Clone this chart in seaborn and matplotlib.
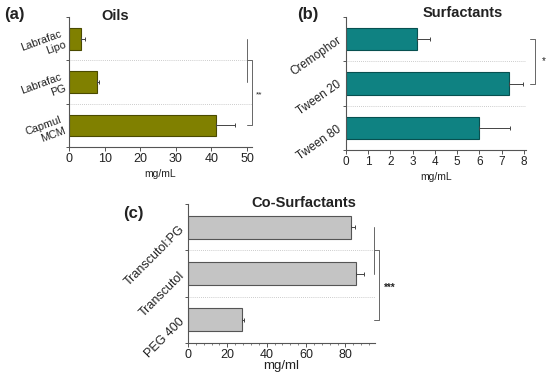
import matplotlib
matplotlib.use("Agg")
import matplotlib.pyplot as plt
import seaborn as sns
import numpy as np
from matplotlib.ticker import MultipleLocator, FixedLocator

sns.set_style("white")
plt.rcParams['font.family'] = ['Liberation Sans', 'DejaVu Sans']

# ---- data ----
oil_cats = ["Labrafac\nLipo", "Labrafac\nPG", "Capmul\nMCM"]
oil_vals = [3.4, 7.8, 41.3]
oil_errs = [1.0, 0.5, 5.3]

surf_cats = ["Cremophor", "Tween 20", "Tween 80"]
surf_vals = [3.2, 7.35, 6.0]
surf_errs = [0.6, 0.6, 1.4]

cosurf_cats = ["Transcutol:PG", "Transcutol", "PEG 400"]
cosurf_vals = [83.0, 85.5, 27.5]
cosurf_errs = [2.0, 4.0, 1.0]

W, H = 550, 373
fig = plt.figure(figsize=(W / 100, H / 100), dpi=100)

def frac(l, r, t, b):
    return [l / W, 1 - b / H, (r - l) / W, (b - t) / H]

TXT = "#222222"
SP = "#555555"

def panel(rect, cats, vals, errs, color, edge, xlim, xmajor, title, xlabel,
          rot, ysize, xsize, labsize, labelpad, tpad, tx, minor=None):
    ax = fig.add_axes(rect)
    sns.barplot(x=vals, y=cats, orient="h", color=color, edgecolor=edge,
                linewidth=0.8, width=0.5, ax=ax, saturation=1)
    pos = np.arange(len(cats))
    ax.errorbar(vals, pos, xerr=[np.zeros(len(vals)), errs], fmt="none",
                ecolor="#444444", elinewidth=0.7, capsize=1.5, capthick=0.7)
    ax.set_xlim(*xlim)
    ax.set_ylim(len(cats) - 0.5, -0.5)
    ax.xaxis.set_major_locator(MultipleLocator(xmajor))
    if minor:
        ax.xaxis.set_minor_locator(MultipleLocator(minor))
        ax.tick_params(axis="x", which="minor", length=1.5, width=0.5, color=SP, bottom=True)
    ax.yaxis.set_minor_locator(FixedLocator(np.arange(-0.5, len(cats), 1.0)))
    ax.tick_params(axis="y", which="major", length=0, labelsize=ysize, labelcolor=TXT, pad=4)
    ax.tick_params(axis="y", which="minor", length=2.5, width=0.7, color=SP, left=True)
    ax.tick_params(axis="x", which="major", length=3, width=0.7, color=SP, labelsize=xsize,
                   labelcolor=TXT, bottom=True, pad=1.5)
    for lab in ax.get_yticklabels():
        lab.set_rotation(rot)
        lab.set_rotation_mode("anchor")
        lab.set_ha("right")
        lab.set_va("center")
        lab.set_multialignment("right")
    for s in ["top", "right"]:
        ax.spines[s].set_visible(False)
    for s in ["left", "bottom"]:
        ax.spines[s].set_color(SP)
        ax.spines[s].set_linewidth(0.8)
    for y in np.arange(0.5, len(cats) - 0.5, 1.0):
        ax.axhline(y, color="#bbbbbb", lw=0.6, ls=(0, (1, 1.5)), zorder=0)
    ax.set_ylabel("")
    ax.set_xlabel(xlabel, fontsize=labsize, color=TXT, labelpad=labelpad)
    t = ax.set_title(title, fontsize=10.5, fontweight="bold", color=TXT, pad=tpad, y=1.0)
    t.set_x(tx)
    return ax

BR = "#666666"

# (a)
axa = panel(frac(69, 252, 17, 147), oil_cats, oil_vals, oil_errs, "#808000", "#4a4a00",
            (0, 51.4), 10, "Oils", "mg/mL", rot=20, ysize=7.8, xsize=9, labsize=7.5,
            labelpad=3, tpad=-2.5, tx=0.25)
axa.plot([50, 50], [0, 1], color=BR, lw=0.7, clip_on=False)
axa.plot([50, 51.4, 51.4, 50], [0.5, 0.5, 2, 2], color=BR, lw=0.7, clip_on=False)
axa.text(52.5, 1.3, "**", fontsize=6, color=TXT, ha="left", va="center", clip_on=False)

# (b)
axb = panel(frac(346, 526, 17, 150), surf_cats, surf_vals, surf_errs, "#0f8282", "#075050",
            (0, 8.1), 1, "Surfactants", "mg/mL", rot=35, ysize=8.5, xsize=8.5, labsize=7.5,
            labelpad=3, tpad=0, tx=0.65)
axb.plot([8.3, 8.5, 8.5, 8.3], [0, 0, 1, 1], color=BR, lw=0.7, clip_on=False)
axb.text(8.9, 0.5, "*", fontsize=7, color=TXT, ha="center", va="center", clip_on=False)

# (c)
axc = panel(frac(188, 375, 204, 343), cosurf_cats, cosurf_vals, cosurf_errs, "#c4c4c4", "#555555",
            (0, 95), 20, "Co-Surfactants", "mg/ml", rot=45, ysize=9, xsize=9, labsize=9.5,
            labelpad=-1, tpad=-2.5, tx=0.62, minor=4)
axc.plot([94.5, 94.5], [0, 1], color=BR, lw=0.7, clip_on=False)
axc.plot([94.5, 97, 97, 94.5], [0.5, 0.5, 2, 2], color=BR, lw=0.7, clip_on=False)
axc.text(99.5, 1.3, "***", fontsize=7, fontweight="bold", color=TXT, ha="left", va="center",
         clip_on=False)

# panel labels
fig.text(4 / W, 1 - 15 / H, "(a)", fontsize=12, fontweight="bold", ha="left", va="center", color=TXT)
fig.text(297 / W, 1 - 15 / H, "(b)", fontsize=12, fontweight="bold", ha="left", va="center", color=TXT)
fig.text(123 / W, 1 - 213 / H, "(c)", fontsize=12, fontweight="bold", ha="left", va="center", color=TXT)

fig.savefig("out.png", dpi=100, facecolor="white")
